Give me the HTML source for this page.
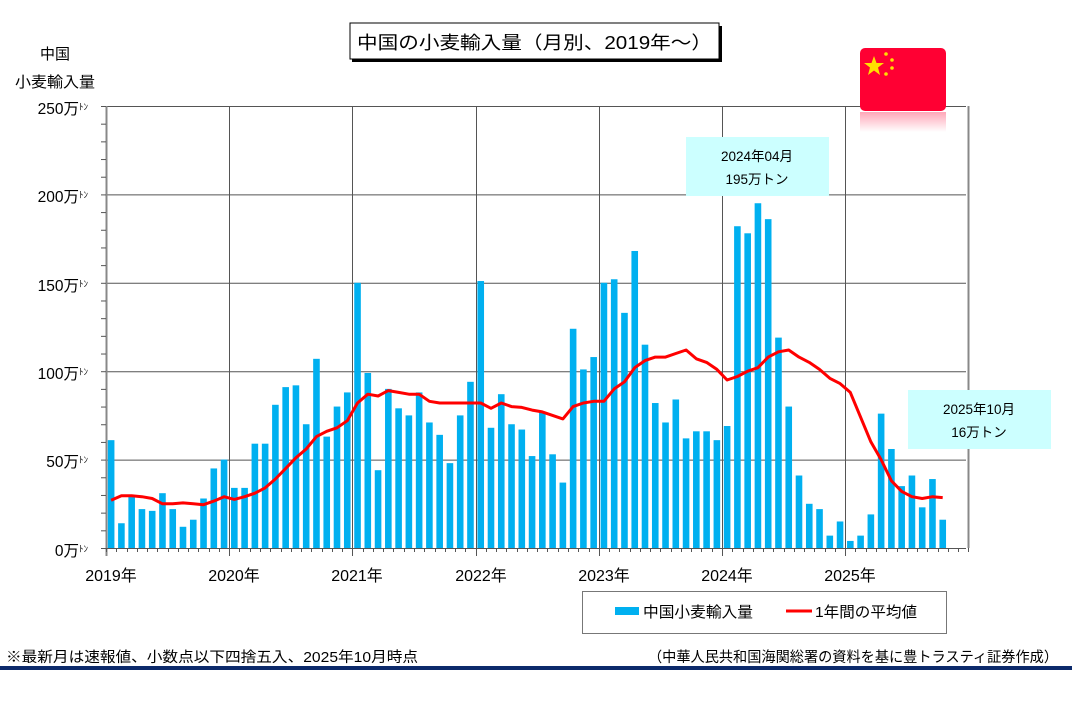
<!DOCTYPE html>
<html><head><meta charset="utf-8"><style>
body{margin:0;background:#fff;}
svg{display:block;font-family:"Liberation Sans","Noto Sans CJK JP",sans-serif;}
</style></head><body>
<svg id="s" width="1074" height="707" viewBox="0 0 1074 707" xmlns="http://www.w3.org/2000/svg">
<defs><linearGradient id="rf" x1="0" y1="0" x2="0" y2="1"><stop offset="0" stop-color="#ff0033" stop-opacity="0.35"/><stop offset="1" stop-color="#ff0033" stop-opacity="0"/></linearGradient></defs>
<g id="grid" stroke="#555" stroke-width="1"></g>
<g id="bars" fill="#00b0f0"></g>
<polyline id="ma" fill="none" stroke="#ff0000" stroke-width="3" stroke-linejoin="round"/>
<g font-size="15.5" fill="#000" text-anchor="end">
<text x="88" y="114">250万<tspan font-size="9" dy="-4">ﾄﾝ</tspan></text>
<text x="88" y="202">200万<tspan font-size="9" dy="-4">ﾄﾝ</tspan></text>
<text x="88" y="291">150万<tspan font-size="9" dy="-4">ﾄﾝ</tspan></text>
<text x="88" y="379">100万<tspan font-size="9" dy="-4">ﾄﾝ</tspan></text>
<text x="88" y="467">50万<tspan font-size="9" dy="-4">ﾄﾝ</tspan></text>
<text x="88" y="556">0万<tspan font-size="9" dy="-4">ﾄﾝ</tspan></text>
</g>
<text x="55" y="59" font-size="15" text-anchor="middle">中国</text>
<text x="55" y="87" font-size="15" text-anchor="middle" textLength="80" lengthAdjust="spacingAndGlyphs">小麦輸入量</text>
<g font-size="16" text-anchor="middle">
<text x="111" y="581">2019年</text><text x="234" y="581">2020年</text><text x="357" y="581">2021年</text><text x="481" y="581">2022年</text><text x="604" y="581">2023年</text><text x="727" y="581">2024年</text><text x="850" y="581">2025年</text>
</g>
<rect x="352" y="26" width="370" height="36" fill="#000"/>
<rect x="350" y="23" width="369" height="36" fill="#fff" stroke="#000" stroke-width="1"/>
<text x="357" y="49" font-size="18" textLength="355" lengthAdjust="spacingAndGlyphs">中国の小麦輸入量（月別、2019年～）</text>
<rect x="860" y="112" width="86" height="20" fill="url(#rf)"/>
<rect x="860" y="48" width="86" height="63" rx="5" fill="#ff0033"/>
<g fill="#ffe000">
<polygon points="874,56 876.5,63 884,63 878,67.5 880,75 874,70.5 868,75 870,67.5 864,63 871.5,63"/>
<circle cx="886" cy="54" r="1.8"/><circle cx="892" cy="60" r="1.8"/><circle cx="892" cy="68" r="1.8"/><circle cx="886" cy="74" r="1.8"/>
</g>
<rect x="686" y="137" width="143" height="59" fill="#ccffff"/>
<text x="757" y="161" font-size="13.5" text-anchor="middle">2024年04月</text>
<text x="757" y="184" font-size="13.5" text-anchor="middle">195万トン</text>
<rect x="908" y="390" width="143" height="59" fill="#ccffff"/>
<text x="979" y="414" font-size="13.5" text-anchor="middle">2025年10月</text>
<text x="979" y="437" font-size="13.5" text-anchor="middle">16万トン</text>
<rect x="582.5" y="591.5" width="364" height="42" fill="#fff" stroke="#777"/>
<rect x="615" y="607" width="24" height="8" fill="#00b0f0"/>
<text x="643" y="617" font-size="15" textLength="110" lengthAdjust="spacingAndGlyphs">中国小麦輸入量</text>
<line x1="786" y1="611" x2="812" y2="611" stroke="#ff0000" stroke-width="3"/>
<text x="815" y="617" font-size="15" textLength="102" lengthAdjust="spacingAndGlyphs">1年間の平均値</text>
<text x="6" y="662" font-size="14.5" textLength="412" lengthAdjust="spacingAndGlyphs">※最新月は速報値、小数点以下四捨五入、2025年10月時点</text>
<text x="648" y="662" font-size="14.5" textLength="410" lengthAdjust="spacingAndGlyphs">（中華人民共和国海関総署の資料を基に豊トラスティ証券作成）</text>
<rect x="0" y="666" width="1072" height="4" fill="#0c2a6b"/>
</svg>
<script>
var NS="http://www.w3.org/2000/svg";
function el(p,t,a){var e=document.createElementNS(NS,t);for(var k in a)e.setAttribute(k,a[k]);p.appendChild(e);return e;}
var X0=106,M=123.2/12,Y0=548,K=1.768;
var g=document.getElementById("grid");
for(var v=50;v<=250;v+=50){el(g,"line",{x1:X0,y1:Y0-v*K+0.5,x2:966,y2:Y0-v*K+0.5});}
for(var y=0;y<=7;y++){var x=Math.round(X0+y*123.2)+0.5;el(g,"line",{x1:x,y1:106,x2:x,y2:Y0+(y<7?8:0),stroke:y==0||y==7?"#888":"#555","stroke-width":y==0||y==7?2:1});}
for(var v=0;v<=250;v+=10){el(g,"line",{x1:X0-5,y1:Y0-v*K+0.5,x2:X0,y2:Y0-v*K+0.5});}
el(g,"line",{x1:X0,y1:Y0+0.5,x2:966,y2:Y0+0.5});
for(var i=0;i<=84;i++){var x=Math.round(X0+i*M)+0.5;el(g,"line",{x1:x,y1:Y0,x2:x,y2:Y0+4});}
var d=[61,14,29,22,21,31,22,12,16,28,45,50,34,34,59,59,81,91,92,70,107,63,80,88,150,99,44,90,79,75,88,71,64,48,75,94,151,68,87,70,67,52,77,53,37,124,101,108,150,152,133,168,115,82,71,84,62,66,66,61,69,182,178,195,186,119,80,41,25,22,7,15,4,7,19,76,56,35,41,23,39,16];
var m=[27,29.5,29.5,29,28,25,25,25.5,25,24.5,26.5,29,27.5,29,31,34,39,45,51,56,63,66,68,72,82,87,86,89,88,87,87,83,82,82,82,82,82,79,82,80,79.5,78,77,75,73,80,82,83,83,90,94,102,106,108,108,110,112,107,105,101,95,97,100,102,108,111,112,108,105,101,96,93,88,74,60,50,38,32,29,28,29,28.5];
var b=document.getElementById("bars"),pts=[];
for(var i=0;i<d.length;i++){var c=X0+(i+0.5)*M;el(b,"rect",{x:c-3.3,y:Y0-d[i]*K,width:6.6,height:d[i]*K});pts.push(c.toFixed(1)+","+(Y0-m[i]*K).toFixed(1));}
document.getElementById("ma").setAttribute("points",pts.join(" "));
</script>
</body></html>
